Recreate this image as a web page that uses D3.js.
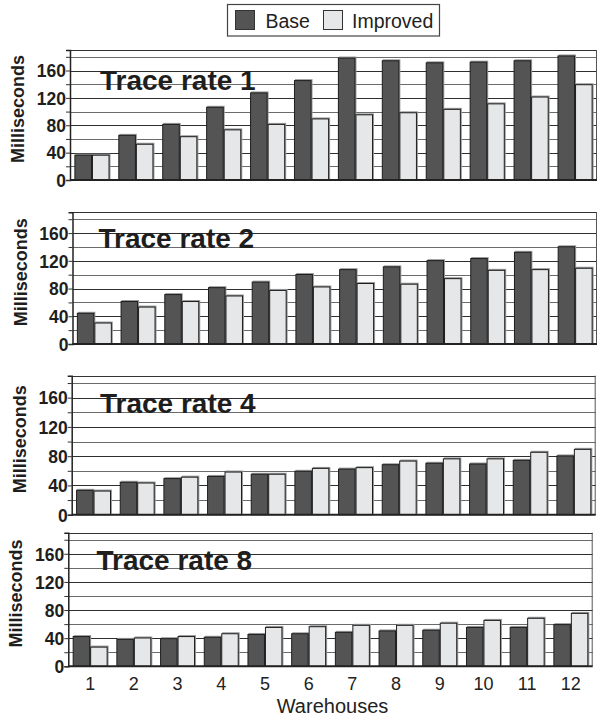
<!DOCTYPE html>
<html><head><meta charset="utf-8">
<script src="https://cdn.jsdelivr.net/npm/d3@7"></script>
<style>html,body{margin:0;padding:0;background:#fff;}svg{display:block;}</style>
</head><body>
<script>
const warehouses = ["1","2","3","4","5","6","7","8","9","10","11","12"];
const seriesNames = ["Base","Improved"];
const panelTitles = ["Trace rate 1","Trace rate 2","Trace rate 4","Trace rate 8"];
const yTicks = [0,40,80,120,160];
const yMax = 190;

const base1 = [37,66,82,107,128,146,179,175,172,173,175,182];
const improved1 = [37,53,64,74,82,90,96,99,104,112,122,140];
const base2 = [45,62,72,82,90,101,108,112,121,124,133,141];
const improved2 = [31,54,62,70,78,83,88,87,95,107,108,110];
const base4 = [34,45,50,53,56,60,63,69,71,70,75,81];
const improved4 = [33,44,52,59,56,64,65,74,77,77,86,90];
const base8 = [43,39,40,42,46,47,49,51,52,56,56,60];
const improved8 = [28,41,43,47,56,57,59,59,62,66,69,76];

const panelData = [[base1,improved1],[base2,improved2],[base4,improved4],[base8,improved8]];

// layout (positions only)
const layout = [
  {left:70,   right:597,   top:50,    bottom:180,   tx:100,  ty:90},
  {left:72.5, right:597,   top:212.3, bottom:344,   tx:98.5, ty:247.5},
  {left:71.7, right:595.7, top:375.7, bottom:514.7, tx:100,  ty:413},
  {left:68.3, right:592.7, top:532.7, bottom:666.3, tx:96.5, ty:570}
];
const colors = ["#545454","#e6e7e8"];
const FONT = "'Liberation Sans', Arial, Helvetica, sans-serif";

const W = 597, H = 721;
const svg = d3.select("body").append("svg").attr("width",W).attr("height",H)
  .attr("font-family",FONT);

layout.forEach((L,pi)=>{
  const g = svg.append("g");
  const y = d3.scaleLinear().domain([0,yMax]).range([L.bottom,L.top]);
  const x = d3.scaleBand().domain(warehouses).range([L.left,L.right]).paddingInner(0.2).paddingOuter(0.1);
  const xs = d3.scaleBand().domain(seriesNames).range([0,x.bandwidth()]);

  // gridlines every 20
  const grid = d3.range(20, yMax, 20);
  g.selectAll("line.grid").data(grid).join("line")
    .attr("x1",L.left).attr("x2",L.right)
    .attr("y1",d=>Math.round(y(d))+0.5).attr("y2",d=>Math.round(y(d))+0.5)
    .attr("stroke",(d,i)=> i%2===0 ? "#6a6a6a" : "#2e2e2e").attr("stroke-width",1);
  // top border / right border
  g.append("line").attr("x1",L.left).attr("x2",L.right)
    .attr("y1",Math.round(L.top)+0.5).attr("y2",Math.round(L.top)+0.5).attr("stroke","#333");
  g.append("line").attr("x1",L.right-0.5).attr("x2",L.right-0.5)
    .attr("y1",L.top).attr("y2",L.bottom).attr("stroke","#555");

  // title
  g.append("text").attr("x",L.tx).attr("y",L.ty).text(panelTitles[pi])
    .attr("font-family",FONT).attr("font-size",28).attr("font-weight","bold").attr("fill","#1e1e1e");

  // bars
  const vals = panelData[pi];
  const groups = g.selectAll("g.grp").data(warehouses).join("g")
    .attr("transform",d=>`translate(${x(d)},0)`);
  seriesNames.forEach((s,si)=>{
    groups.append("rect")
      .attr("x",(d,i)=>xs(s)+1).attr("y",(d,i)=>y(vals[si][i])-1)
      .attr("width",xs.bandwidth()).attr("height",(d,i)=>L.bottom-y(vals[si][i]))
      .attr("fill","#9a9a9a");
  });
  seriesNames.forEach((s,si)=>{
    groups.append("rect")
      .attr("x",(d,i)=>xs(s)+0.5).attr("y",(d,i)=>y(vals[si][i])+0.5)
      .attr("width",xs.bandwidth()-1).attr("height",(d,i)=>Math.max(0,L.bottom-y(vals[si][i])-0.5))
      .attr("fill",colors[si]).attr("stroke","#1e1e1e").attr("stroke-width",1);
  });

  // y axis
  const yAxis = d3.axisLeft(y).tickValues(d3.range(0,yMax,20)).tickSize(4)
    .tickFormat(d=> yTicks.includes(d) ? d : "");
  const ax = g.append("g").attr("transform",`translate(${L.left},0)`).call(yAxis);
  ax.select(".domain").attr("stroke","#222").attr("stroke-width",1.5);
  ax.selectAll(".tick line").attr("stroke","#333");
  ax.selectAll(".tick text").attr("font-size",17.5).attr("font-weight","bold")
    .attr("fill","#1e1e1e").attr("font-family",FONT).attr("x",-4).attr("dy","0.36em");

  // baseline
  g.append("line").attr("x1",L.left).attr("x2",L.right)
    .attr("y1",L.bottom).attr("y2",L.bottom).attr("stroke","#222").attr("stroke-width",2);

  // y label
  g.append("text").attr("transform",`translate(${L.left-46},${(L.top+L.bottom)/2-6}) rotate(-90)`)
    .attr("text-anchor","middle").attr("font-size",18).attr("font-weight","bold").attr("fill","#1e1e1e")
    .attr("font-family",FONT).text("Milliseconds");

  if (pi===3){
    const xAxis = d3.axisBottom(x).tickSize(0).tickPadding(10.5);
    const xa = g.append("g").attr("transform",`translate(0,${L.bottom})`).call(xAxis);
    xa.select(".domain").remove();
    xa.selectAll(".tick text").attr("font-size",18).attr("fill","#222")
      .attr("font-family",FONT);
    g.append("text").attr("x",(L.left+L.right)/2+2).attr("y",713).attr("text-anchor","middle")
      .attr("font-size",20).attr("fill","#222").attr("font-family",FONT).text("Warehouses");
  }
});

// legend
const lg = svg.append("g");
lg.append("rect").attr("x",227.5).attr("y",4.5).attr("width",212).attr("height",31.5)
  .attr("fill","#fff").attr("stroke","#444").attr("stroke-width",1.2);
const legendItems = [{x:235.5,tx:265.5},{x:323.5,tx:352}];
seriesNames.forEach((s,i)=>{
  lg.append("rect").attr("x",legendItems[i].x).attr("y",10.5).attr("width",19).attr("height",19)
    .attr("fill",colors[i]).attr("stroke","#333").attr("stroke-width",1);
  lg.append("text").attr("x",legendItems[i].tx).attr("y",27.5).attr("font-size",19.5)
    .attr("fill","#222").attr("font-family",FONT).text(s);
});
</script>
</body></html>
